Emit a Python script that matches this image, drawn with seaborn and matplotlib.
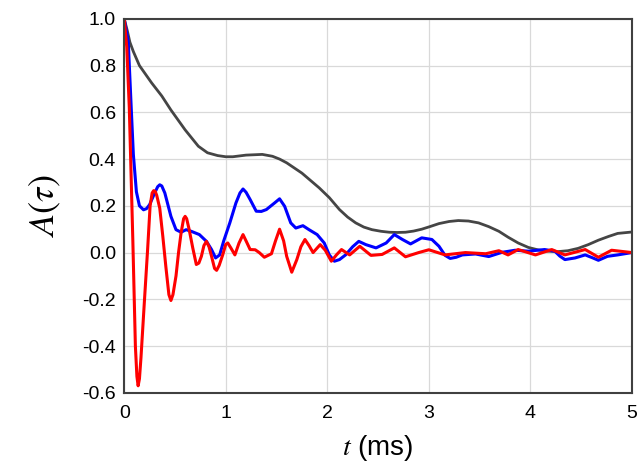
import numpy as np
import pandas as pd
import matplotlib
matplotlib.use("Agg")
import matplotlib.pyplot as plt
import seaborn as sns

# values
t_gray = [0, 0.03, 0.056, 0.09, 0.15, 0.27, 0.37, 0.46, 0.6, 0.73, 0.82, 0.92, 1.0,
          1.07, 1.2, 1.36, 1.46, 1.53, 1.6, 1.75, 1.92, 2.02, 2.12, 2.2, 2.28, 2.36, 2.44, 2.53, 2.61, 2.69, 2.77,
          2.85, 2.93, 3.01, 3.1, 3.2, 3.29, 3.39, 3.49, 3.59, 3.69, 3.78, 3.88, 3.98, 4.08, 4.17, 4.27, 4.37, 4.47,
          4.57, 4.67, 4.77, 4.86, 5.0]
a_gray = [1.0, 0.95, 0.90, 0.86, 0.80, 0.726, 0.67, 0.61, 0.525, 0.455, 0.427, 0.415, 0.41,
          0.41, 0.417, 0.42, 0.412, 0.40, 0.384, 0.34, 0.277, 0.235, 0.184, 0.152, 0.127, 0.109, 0.098, 0.091, 0.087, 0.086, 0.087,
          0.092, 0.10, 0.111, 0.124, 0.133, 0.137, 0.135, 0.127, 0.111, 0.091, 0.066, 0.041, 0.022, 0.011, 0.006, 0.004, 0.008, 0.018,
          0.034, 0.053, 0.069, 0.082, 0.088]

t_blue = [0, 0.04, 0.07, 0.09, 0.12, 0.15, 0.19, 0.22, 0.25, 0.3, 0.33, 0.35, 0.37, 0.4, 0.43, 0.46, 0.51, 0.56,
          0.61, 0.66, 0.74, 0.81, 0.86, 0.9, 0.94, 0.98, 1.04, 1.1, 1.14, 1.17, 1.2, 1.24, 1.3, 1.35, 1.4,
          1.48, 1.53, 1.58, 1.64, 1.69, 1.76, 1.82, 1.9, 1.97, 2.02, 2.07, 2.12, 2.18, 2.25, 2.31, 2.38,
          2.48, 2.58, 2.66, 2.74, 2.82, 2.93, 3.03, 3.1, 3.16, 3.21, 3.27, 3.33, 3.46, 3.59, 3.72, 3.85,
          3.98, 4.14, 4.24, 4.29, 4.34, 4.44, 4.54, 4.61, 4.67, 4.76, 4.86, 5.0]
a_blue = [1.0, 0.9, 0.61, 0.42, 0.26, 0.2, 0.183, 0.188, 0.205, 0.255, 0.282, 0.29, 0.285, 0.255, 0.205, 0.155, 0.098, 0.087,
          0.098, 0.091, 0.077, 0.048, 0.013, -0.023, -0.01, 0.05, 0.127, 0.212, 0.255, 0.272, 0.258, 0.227, 0.177, 0.176, 0.184,
          0.212, 0.23, 0.198, 0.127, 0.105, 0.115, 0.098, 0.077, 0.041, -0.01, -0.037, -0.03, -0.01, 0.025, 0.048, 0.034,
          0.02, 0.041, 0.077, 0.056, 0.037, 0.063, 0.056, 0.027, -0.012, -0.025, -0.02, -0.01, -0.006, -0.017, 0.001, 0.01,
          0.006, 0.013, 0.006, -0.015, -0.03, -0.023, -0.01, -0.022, -0.033, -0.016, -0.01, 0.0]

t_red = [0, 0.025, 0.05, 0.085, 0.11, 0.125, 0.137, 0.15, 0.165, 0.2, 0.23, 0.255, 0.275, 0.29, 0.305, 0.32, 0.35,
         0.38, 0.41, 0.44, 0.46, 0.48, 0.51, 0.535, 0.56, 0.585, 0.6, 0.615, 0.64, 0.675, 0.71, 0.735, 0.76, 0.785,
         0.81, 0.835, 0.86, 0.89, 0.91, 0.935, 0.97, 1.0, 1.02, 1.05, 1.09, 1.13, 1.17, 1.2, 1.24, 1.29, 1.33,
         1.38, 1.45, 1.49, 1.53, 1.57, 1.6, 1.65, 1.7, 1.74, 1.78, 1.82, 1.86, 1.93, 1.98, 2.04, 2.09, 2.14, 2.22,
         2.32, 2.43, 2.54, 2.66, 2.77, 2.9, 3.0, 3.16, 3.36, 3.56, 3.69, 3.78, 3.88, 4.05, 4.21, 4.34, 4.54, 4.67,
         4.8, 5.0]
a_red = [1.0, 0.88, 0.62, 0.05, -0.40, -0.53, -0.57, -0.54, -0.45, -0.2, 0.01, 0.2, 0.255, 0.265, 0.262, 0.245, 0.19,
         0.07, -0.06, -0.18, -0.205, -0.18, -0.10, 0.0, 0.084, 0.145, 0.155, 0.145, 0.098, 0.02, -0.051, -0.045, -0.016, 0.03,
         0.048, 0.025, -0.016, -0.068, -0.076, -0.055, -0.01, 0.035, 0.041, 0.02, -0.01, 0.04, 0.077, 0.05, 0.013, 0.012, 0.0,
         -0.02, -0.005, 0.05, 0.1, 0.05, -0.016, -0.084, -0.03, 0.025, 0.056, 0.03, 0.0, 0.034, 0.01, -0.037, -0.01, 0.013, -0.01,
         0.027, -0.012, -0.008, 0.02, -0.018, 0.0, 0.012, -0.01, 0.0, -0.005, 0.008, -0.01, 0.013, -0.01, 0.013, -0.01, 0.013, -0.02,
         0.01, 0.0]

x_ticks = [0, 1, 2, 3, 4, 5]
y_ticks = [-0.6, -0.4, -0.2, 0.0, 0.2, 0.4, 0.6, 0.8, 1.0]

sns.set_theme(style="whitegrid")
plt.rcParams['font.family'] = ['Liberation Sans', 'DejaVu Sans']
plt.rcParams['mathtext.fontset'] = 'stix'

fig = plt.figure(figsize=(6.37, 4.71), dpi=100)
ax = fig.add_axes([0.195, 0.166, 0.797, 0.794])

sns.lineplot(x=t_gray, y=a_gray, ax=ax, color='#454545', linewidth=2.0, sort=False, estimator=None)
sns.lineplot(x=t_blue, y=a_blue, ax=ax, color='#0000ff', linewidth=2.2, sort=False, estimator=None)
sns.lineplot(x=t_red, y=a_red, ax=ax, color='#ff0000', linewidth=2.2, sort=False, estimator=None)

ax.set_xlim(0, 5)
ax.set_ylim(-0.6, 1.0)
ax.set_xticks(x_ticks)
ax.set_xticklabels([str(v) for v in x_ticks])
ax.set_yticks(y_ticks)
ax.set_yticklabels([f"{v:.1f}" for v in y_ticks])
ax.tick_params(axis='both', length=0, labelsize=14, colors='black')
ax.tick_params(axis='y', pad=6)
ax.tick_params(axis='x', pad=9)

ax.grid(True, color='#d9d9d9', linewidth=0.9)
for s in ax.spines.values():
    s.set_color('#404040')
    s.set_linewidth(1.5)
    s.set_visible(True)

ax.set_xlabel(r"$t$ (ms)", fontsize=20, color='black', labelpad=8)
ax.set_ylabel(r"$A(\tau)$", fontsize=26, color='black', labelpad=14)

fig.savefig("out.png", dpi=100, facecolor='white')
